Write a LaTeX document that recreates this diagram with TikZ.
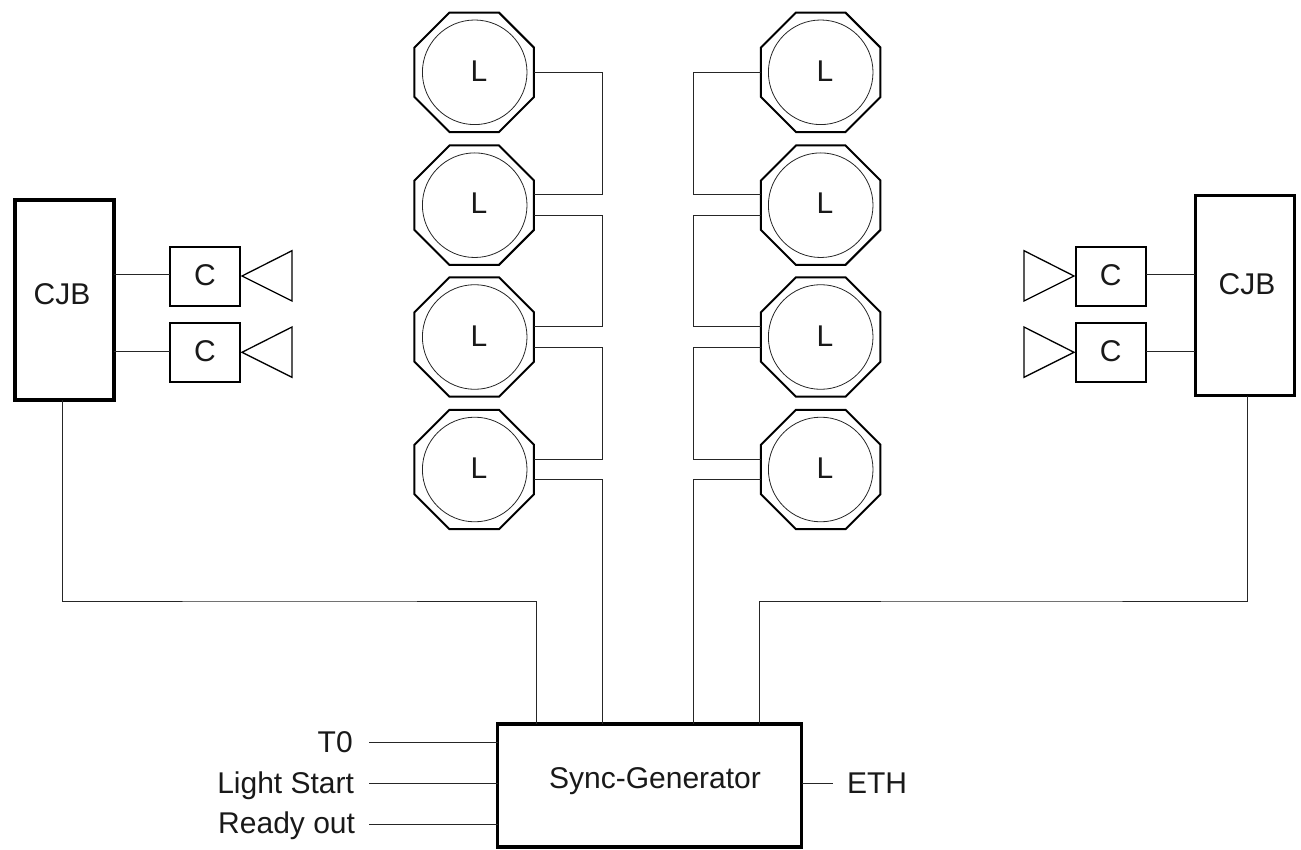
\documentclass[tikz,border=0pt]{standalone}
\usepackage{fontspec}
\setmainfont{Liberation Sans}
\usetikzlibrary{calc,shapes.geometric}
\tikzset{
  wire/.style={line width=1pt,draw=black!85},
  octa/.style={draw=black,line width=2pt,regular polygon,regular polygon sides=8,minimum size=129.3pt,inner sep=0pt,outer sep=0pt},
  lens/.style={draw=black!85,line width=.8pt,circle,minimum size=104.6pt,inner sep=0pt,outer sep=0pt},
  lbl/.style={font=\fontsize{30}{30}\selectfont,inner sep=0pt,outer sep=0pt,text=black!90},
  cam/.style={draw=black,line width=1.8pt,minimum width=70pt,minimum height=59.5pt,inner sep=0pt,outer sep=0pt},
  thickbox/.style={draw=black,inner sep=0pt,outer sep=0pt},
  cone/.style={draw=black,line width=1.3pt,line join=miter},
}
\begin{document}
\begin{tikzpicture}[x=1pt,y=-1pt]
\useasboundingbox (0,0) rectangle (1301,850);
% lamps, left and right
\node[octa] (ol1) at (474.2,72.3) {};
\node[octa] (ol2) at (474.2,205.2) {};
\node[octa] (ol3) at (474.2,337) {};
\node[octa] (ol4) at (474.2,469.5) {};
\node[octa] (or1) at (820.7,72.3) {};
\node[octa] (or2) at (820.7,205.2) {};
\node[octa] (or3) at (820.7,337) {};
\node[octa] (or4) at (820.7,469.5) {};
\node[lens] (cl1) at (474.7,72.3) {};
\node[lens] (cl2) at (474.7,205.2) {};
\node[lens] (cl3) at (474.7,337) {};
\node[lens] (cl4) at (474.7,469.5) {};
\node[lens] (cr1) at (820.7,72.3) {};
\node[lens] (cr2) at (820.7,205.2) {};
\node[lens] (cr3) at (820.7,337) {};
\node[lens] (cr4) at (820.7,469.5) {};
\node[lbl,anchor=base] (tl1) at (479,81.7) {L};
\node[lbl,anchor=base] (tl2) at (479,213.5) {L};
\node[lbl,anchor=base] (tl3) at (479,346) {L};
\node[lbl,anchor=base] (tl4) at (479,478) {L};
\node[lbl,anchor=base] (tr1) at (825,81.7) {L};
\node[lbl,anchor=base] (tr2) at (825,213.5) {L};
\node[lbl,anchor=base] (tr3) at (825,346) {L};
\node[lbl,anchor=base] (tr4) at (825,478) {L};
% sync generator
\node[thickbox,line width=3.6pt,minimum width=304pt,minimum height=123pt] (sync) at (649.5,785.5) {};
\node[lbl,anchor=base] (synct) at (655,788.3) {Sync-Generator};
% CJBs
\node[thickbox,line width=4pt,minimum width=99pt,minimum height=199.5pt] (cjbl) at (64,300.2) {};
\node[thickbox,line width=3pt,minimum width=99pt,minimum height=200pt] (cjbr) at (1244.5,295.5) {};
\node[lbl,anchor=base] (cjblt) at (62,305) {CJB};
\node[lbl,anchor=base] (cjbrt) at (1247,295) {CJB};
% cameras
\node[cam] (c1) at (205,276.5) {};
\node[cam] (c2) at (205,352.5) {};
\node[cam] (c3) at (1110.7,276.5) {};
\node[cam] (c4) at (1110.7,352.5) {};
\node[lbl,anchor=base] (c1t) at (205,285.5) {C};
\node[lbl,anchor=base] (c2t) at (205,361.5) {C};
\node[lbl,anchor=base] (c3t) at (1110.7,285.5) {C};
\node[lbl,anchor=base] (c4t) at (1110.7,361.5) {C};
% cones
\draw[cone] (242,276) -- (292,250.7) -- (292,301) -- cycle;
\draw[cone] (242,352.3) -- (292,327) -- (292,377.3) -- cycle;
\draw[cone] (1074,276) -- (1024,250.7) -- (1024,301) -- cycle;
\draw[cone] (1074,352.3) -- (1024,327) -- (1024,377.3) -- cycle;
% ports on the lamps
\coordinate (la2) at ($(ol2.east)+(0,-10.5)$);
\coordinate (lb2) at ($(ol2.east)+(0,10)$);
\coordinate (la3) at ($(ol3.east)+(0,-10.3)$);
\coordinate (lb3) at ($(ol3.east)+(0,10)$);
\coordinate (la4) at ($(ol4.east)+(0,-10.5)$);
\coordinate (lb4) at ($(ol4.east)+(0,10.2)$);
\coordinate (ra2) at ($(or2.west)+(0,-10.5)$);
\coordinate (rb2) at ($(or2.west)+(0,10)$);
\coordinate (ra3) at ($(or3.west)+(0,-10.3)$);
\coordinate (rb3) at ($(or3.west)+(0,10)$);
\coordinate (ra4) at ($(or4.west)+(0,-10.5)$);
\coordinate (rb4) at ($(or4.west)+(0,10.2)$);
\coordinate (jl) at (602,300);
\coordinate (jr) at (693,300);
\coordinate (busl) at (300,601);
\coordinate (busr) at (1000,601);
\coordinate (sa) at ($(sync.north west)+(38.5,0)$);
\coordinate (sb) at ($(sync.north west)+(104.5,0)$);
\coordinate (sc) at ($(sync.north west)+(195.5,0)$);
\coordinate (sd) at ($(sync.north west)+(262,0)$);
% lamp chains, left
\draw[wire] (ol1.east) -| (jl |- la2) -- (la2);
\draw[wire] (lb2) -| (jl |- la3) -- (la3);
\draw[wire] (lb3) -| (jl |- la4) -- (la4);
\draw[wire] (lb4) -| (sb);
% lamp chains, right
\draw[wire] (or1.west) -| (jr |- ra2) -- (ra2);
\draw[wire] (rb2) -| (jr |- ra3) -- (ra3);
\draw[wire] (rb3) -| (jr |- ra4) -- (ra4);
\draw[wire] (rb4) -| (sc);
% CJB to sync
\draw[wire] ($(cjbl.south)+(-1.3,0)$) |- (busl) -| (sa);
\draw[wire] ($(cjbr.south)+(3,0)$) |- (busr) -| (sd);
% CJB to cameras
\coordinate (w1) at ($(c1.west)+(0,-1.5)$);
\coordinate (w2) at ($(c2.west)+(0,-1.5)$);
\coordinate (w3) at ($(c3.east)+(0,-1.5)$);
\coordinate (w4) at ($(c4.east)+(0,-1.5)$);
\draw[wire] (cjbl.east |- w1) -- (w1);
\draw[wire] (cjbl.east |- w2) -- (w2);
\draw[wire] (w3) -- (cjbr.west |- w3);
\draw[wire] (w4) -- (cjbr.west |- w4);
% signals
\coordinate (st0) at (369,742.7);
\coordinate (sls) at (369,783.3);
\coordinate (sro) at (369,824);
\coordinate (seth) at (832.7,783.3);
\node[lbl,anchor=base east] (t0) at (352.7,752.7) {T0};
\node[lbl,anchor=base east] (ls) at (354,793.3) {Light Start};
\node[lbl,anchor=base east] (ro) at (355,833.5) {Ready out};
\node[lbl,anchor=base west] (eth) at (847,793.3) {ETH};
\draw[wire] (st0) -- (st0 -| sync.west);
\draw[wire] (sls) -- (sls -| sync.west);
\draw[wire] (sro) -- (sro -| sync.west);
\draw[wire] (seth -| sync.east) -- (seth);
\end{tikzpicture}
\end{document}
